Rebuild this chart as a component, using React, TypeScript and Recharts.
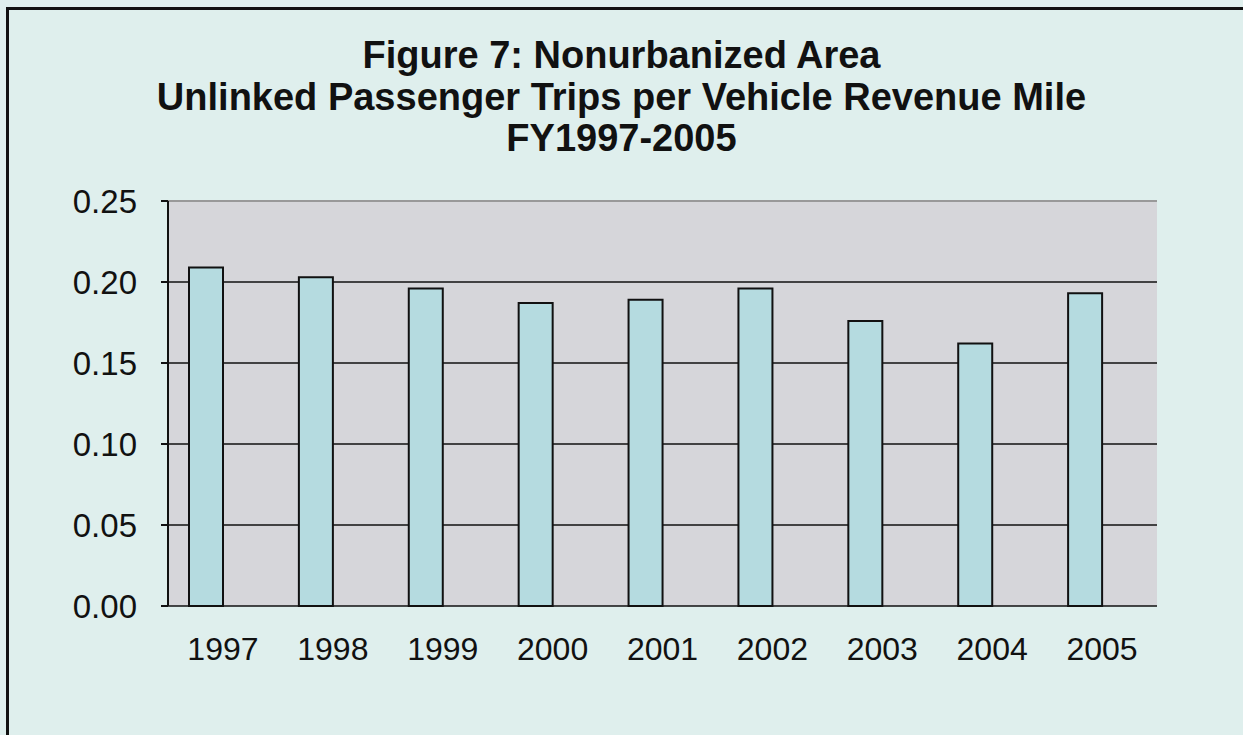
import { Bar, BarChart, CartesianGrid, ReferenceLine, XAxis, YAxis } from "recharts";

const years = ["1997", "1998", "1999", "2000", "2001", "2002", "2003", "2004", "2005"];
const tripsPerMile = [0.209, 0.203, 0.196, 0.187, 0.189, 0.196, 0.176, 0.162, 0.193];
const yTicks = [0, 0.05, 0.1, 0.15, 0.2, 0.25];
const edgeTicks = [0, 1, 2, 3, 4, 5, 6, 7, 8, 9];
const titleLines = [
  "Figure 7: Nonurbanized Area",
  "Unlinked Passenger Trips per Vehicle Revenue Mile",
  "FY1997-2005",
];

// second series is empty, Excel left a slot for it so bars sit left of the label
const data = years.map((year, i) => ({ year, trips: tripsPerMile[i], spacer: null }));

const font = "Arial, 'Liberation Sans', sans-serif";

export default function App() {
  return (
    <div
      style={{
        position: "absolute",
        left: 0,
        top: 0,
        width: 1243,
        height: 735,
        overflow: "hidden",
        background: "#dfefed",
        fontFamily: font,
      }}
    >
      {/* frame: only top and left edges show in the scan */}
      <div style={{ position: "absolute", left: 6, top: 7, width: 1237, height: 3, background: "#111" }} />
      <div style={{ position: "absolute", left: 6, top: 7, width: 3, height: 728, background: "#111" }} />
      {titleLines.map((line, i) => (
        <div
          key={line}
          style={{
            position: "absolute",
            left: 0,
            width: 1243,
            top: 34 + i * 41.5,
            textAlign: "center",
            fontWeight: "bold",
            fontSize: 38,
            lineHeight: "42px",
            color: "#111",
          }}
        >
          {line}
        </div>
      ))}
      <div style={{ position: "absolute", left: 0, top: 0 }}>
        <BarChart
          width={1243}
          height={735}
          data={data}
          margin={{ top: 201, right: 86, bottom: 69, left: 0 }}
          barGap={0}
          barSize={34}
        >
          <CartesianGrid vertical={false} stroke="#111" strokeWidth={1.5} fill="#d6d6da" fillOpacity={1} />
          <XAxis
            xAxisId="edges"
            type="number"
            domain={[0, 9]}
            ticks={edgeTicks}
            height={0}
            tickSize={7}
            tickFormatter={() => ""}
            axisLine={{ stroke: "#111", strokeWidth: 2 }}
            tickLine={{ stroke: "#111", strokeWidth: 2 }}
          />
          <XAxis
            dataKey="year"
            height={60}
            axisLine={false}
            tickLine={false}
            tickSize={0}
            tickMargin={31}
            tick={{ fill: "#111", fontSize: 32, fontFamily: font }}
          />
          <YAxis
            width={168}
            domain={[0, 0.25]}
            ticks={yTicks}
            tickSize={7}
            tickMargin={24}
            tickFormatter={(v: number) => v.toFixed(2)}
            axisLine={{ stroke: "#111", strokeWidth: 2 }}
            tickLine={{ stroke: "#111", strokeWidth: 2 }}
            tick={{ fill: "#111", fontSize: 33, fontFamily: font }}
          />
          <ReferenceLine y={0.25} stroke="#999" strokeWidth={2} />
          <ReferenceLine xAxisId="edges" x={9} stroke="#999" strokeWidth={2} />
          <Bar dataKey="trips" fill="#b5dbe0" stroke="#111" strokeWidth={2} isAnimationActive={false} />
          <Bar dataKey="spacer" fill="#b5dbe0" isAnimationActive={false} />
        </BarChart>
      </div>
    </div>
  );
}
